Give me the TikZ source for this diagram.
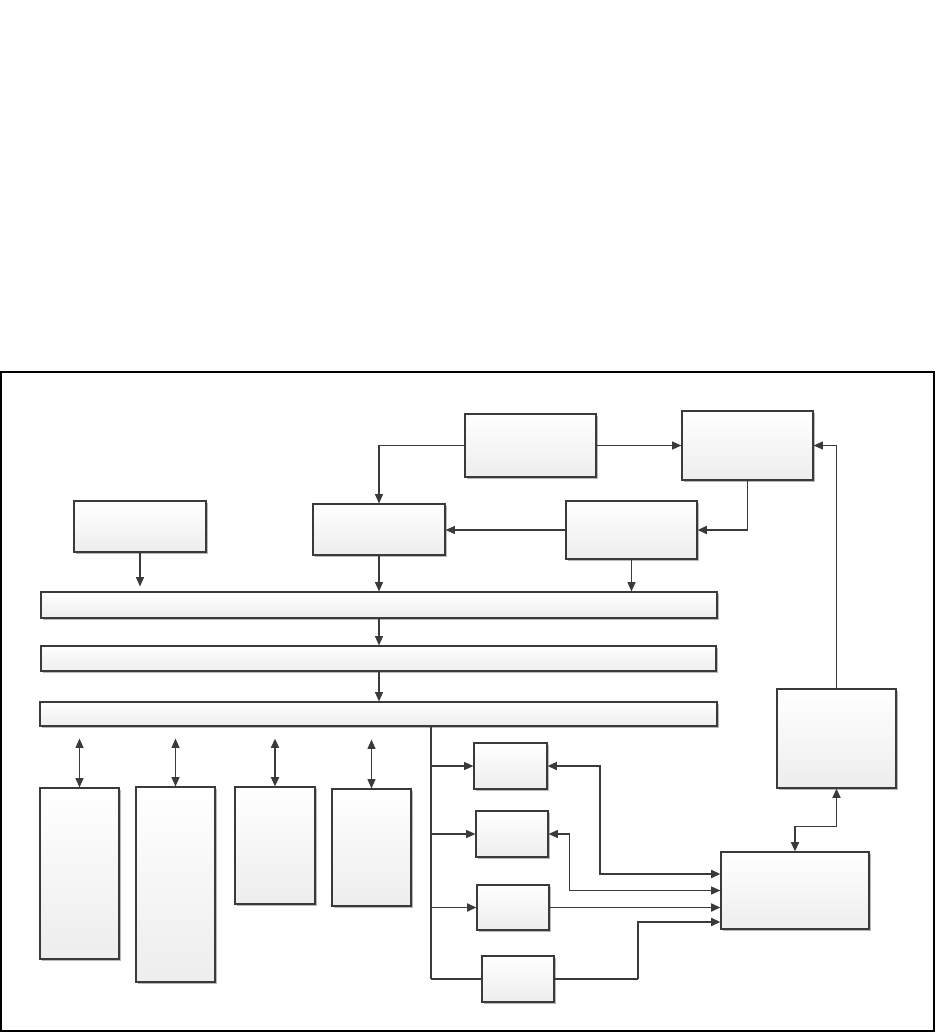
\documentclass[tikz,border=0pt]{standalone}
\usetikzlibrary{arrows.meta,fit,shadows,calc}
\definecolor{lc}{HTML}{3A3A3A}
\begin{document}
\begin{tikzpicture}[x=0.75pt,y=-0.75pt,
  box/.style={draw=lc, line width=0.85pt, inner sep=0pt, top color=white, bottom color=black!7,
    drop shadow={shadow xshift=1.6pt, shadow yshift=-1.6pt, fill=black!28, opacity=1}},
  ln/.style={draw=lc, line width=0.85pt},
  thk/.style={draw=lc, line width=1.4pt},
  tip/.style={-{Triangle[length=7pt,width=6pt]}},
  dtip/.style={{Triangle[length=7pt,width=6pt]}-{Triangle[length=7pt,width=6pt]}}]
\useasboundingbox (0,0) rectangle (936,1032);
\fill[white] (0,0) rectangle (936,1032);
\draw[black, line width=0.85pt] (1,372) rectangle (934,1031);
% boxes
\node[box, fit={(74,501) (206,552)}] (A) {};
\node[box, fit={(313,504) (445,555)}] (B) {};
\node[box, fit={(465,414) (596,477)}] (C) {};
\node[box, fit={(682,411) (813,480)}] (D) {};
\node[box, fit={(566,501) (697,559)}] (E) {};
\node[box, fit={(41,592) (717,618)}] (bar1) {};
\node[box, fit={(41,646) (716,671)}] (bar2) {};
\node[box, fit={(40,702) (717,726)}] (bar3) {};
\node[box, fit={(40,788) (119,959)}] (T1) {};
\node[box, fit={(136,787) (215,982)}] (T2) {};
\node[box, fit={(235,787) (315,904)}] (T3) {};
\node[box, fit={(332,789) (411,906)}] (T4) {};
\node[box, fit={(474,743) (547,789)}] (S1) {};
\node[box, fit={(476,811) (548,857)}] (S2) {};
\node[box, fit={(477,885) (549,930)}] (S3) {};
\node[box, fit={(482,956) (554,1002)}] (S4) {};
\node[box, fit={(721,852) (869,929)}] (F) {};
\node[box, fit={(777,689) (896,788)}] (G) {};
\coordinate (busx) at (431,0);
% top connectors
\draw[ln,tip] (C.east) -- (D.west);
\draw[ln,tip] (C.west) -| (B.north);
\draw[ln,tip] (E.west) -- (E.west -| B.east);
\draw[thk,tip] (D.south) |- (E.east);
\draw[ln,tip] (G.north) |- (D.east);
\draw[ln,tip] (A.south) -- ($(A.south |- bar1.north)+(0,-5)$);
\draw[ln,tip] (B.south) -- (B.south |- bar1.north);
\draw[ln,tip] (E.south) -- (E.south |- bar1.north);
\draw[ln,tip] (B.south |- bar1.south) -- (B.south |- bar2.north);
\draw[ln,tip] (B.south |- bar2.south) -- (B.south |- bar3.north);
% tall boxes
\draw[ln,dtip] ($(T1.north |- bar3.south)+(0,12)$) -- (T1.north);
\draw[ln,dtip] ($(T2.north |- bar3.south)+(0,12)$) -- (T2.north);
\draw[thk,dtip] ($(T3.north |- bar3.south)+(0,12)$) -- (T3.north);
\draw[ln,dtip] ($(T4.north |- bar3.south)+(0,13)$) -- (T4.north);
% bus
\draw[ln] (busx |- bar3.south) -- (busx |- S4.west);
\draw[thk] (busx |- S4.west) -- (S4.west);
\draw[ln,tip] (busx |- S1.west) -- (S1.west);
\draw[ln,tip] (busx |- S2.west) -- (S2.west);
\draw[thk,tip] (busx |- S3.west) -- (S3.west);
% to F
\draw[thk,dtip] (S1.east) -- ++(52,0) |- ($(F.west)+(0,-16.5)$);
\draw[ln,dtip] (S2.east) -- ++(21,0) |- (F.west);
\draw[thk,tip] (S3.east) -- (S3.east -| F.west);
\draw[ln] (S4.east) -- ++(83,0) coordinate (s4c);
\draw[thk,tip] (s4c) |- ($(F.west)+(0,31.5)$);
% F to G
\draw[thk,dtip] (F.north) -- ++(0,-25) -| (G.south);
\end{tikzpicture}
\end{document}
